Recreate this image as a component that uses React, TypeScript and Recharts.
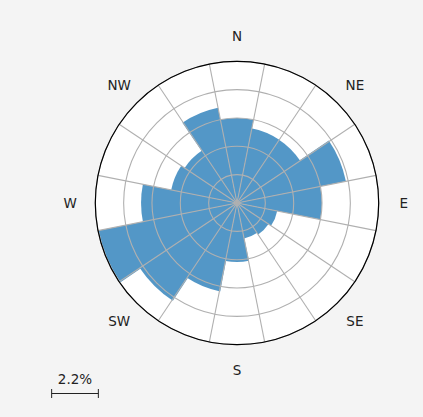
import React from 'react';
import {
  RadialBarChart,
  RadialBar,
  PolarGrid,
  PolarAngleAxis,
  PolarRadiusAxis,
} from 'recharts';

// wind direction sectors, clockwise from north
const directions = ['N', 'NNE', 'NE', 'ENE', 'E', 'ESE', 'SE', 'SSE', 'S', 'SSW', 'SW', 'WSW', 'W', 'WNW', 'NW', 'NNW'];
// frequency per sector (%)
const frequency = [4.0, 3.58, 3.58, 5.23, 4.0, 1.93, 1.79, 1.7, 2.78, 4.24, 5.51, 6.64, 4.52, 3.16, 2.97, 4.57];
const labelledDirections = ['N', 'NE', 'E', 'SE', 'S', 'SW', 'W', 'NW'];
const radialTicks = [1.335, 2.67, 4.005, 5.34, 6.675];
const scaleBarValue = 2.2;
const scaleBarLabel = '2.2%';

const data = directions.map((dir, i) => ({ dir, freq: frequency[i] }));

const WIDTH = 423;
const HEIGHT = 417;
const CX = 237;
const CY = 203;
const RADIUS = 141.7; // radius of the outer (black) circle
const LABEL_GAP = 25;
const MAX = radialTicks[radialTicks.length - 1]; // value at the outer circle
// recharts rounds the radius domain up to a whole number, so use that
// domain and stretch the axis range to keep MAX on the outer circle
const DOMAIN_MAX = Math.ceil(MAX);
const AXIS_RADIUS = (RADIUS * DOMAIN_MAX) / MAX;
const FONT = '"DejaVu Sans", sans-serif';
const GRID = '#b0b0b0';

const sectorAngle = 360 / directions.length;
// recharts puts each bar from the category coordinate onwards (counter-clockwise),
// so start half a sector clockwise of north to centre the bars on the compass points
const startAngle = 90 - sectorAngle / 2;
const boundaryAngles = directions.map((_, i) => startAngle - i * sectorAngle);

const DirTick = (props: any) => {
  const { x, y, payload } = props;
  if (!labelledDirections.includes(payload.value)) return <g />;
  // tick sits on the sector edge; move it to the sector centre
  const a = Math.atan2(CY - y, x - CX) + (sectorAngle / 2) * (Math.PI / 180);
  const r = RADIUS + LABEL_GAP;
  return (
    <text
      x={CX + r * Math.cos(a)}
      y={CY - r * Math.sin(a)}
      textAnchor='middle'
      dominantBaseline='central'
      fontSize={13.5}
      fill='#222'
      fontFamily={FONT}
    >
      {payload.value}
    </text>
  );
};

const ScaleBar = () => {
  const len = (scaleBarValue / MAX) * RADIUS;
  const x0 = 75 - len / 2;
  const x1 = 75 + len / 2;
  return (
    <svg width={150} height={60} style={{ position: 'absolute', left: 0, top: HEIGHT - 60 }}>
      <text x={75} y={27} textAnchor='middle' fontSize={13.5} fill='#222' fontFamily={FONT}>
        {scaleBarLabel}
      </text>
      <line x1={x0} x2={x1} y1={36.5} y2={36.5} stroke='#222' strokeWidth={1} />
      <line x1={x0} x2={x0} y1={32} y2={41} stroke='#222' strokeWidth={1} />
      <line x1={x1} x2={x1} y1={32} y2={41} stroke='#222' strokeWidth={1} />
    </svg>
  );
};

const chartCommon = {
  width: WIDTH,
  height: HEIGHT,
  data,
  cx: CX,
  cy: CY,
  innerRadius: 0,
  startAngle,
  endAngle: startAngle - 360,
  layout: 'centric' as const,
  margin: { top: 0, right: 0, bottom: 0, left: 0 },
};

const App = () => {
  return (
    <div style={{ position: 'absolute', left: 0, top: 0, width: WIDTH, height: HEIGHT, background: '#f4f4f4' }}>
      <RadialBarChart {...chartCommon} outerRadius={AXIS_RADIUS} barCategoryGap={0} barGap={0}>
        <PolarGrid gridType='circle' polarAngles={[]} polarRadius={[RADIUS]} fill='#fff' stroke='none' />
        <PolarAngleAxis
          type='category'
          dataKey='dir'
          axisLine={false}
          tickLine={false}
          tickSize={LABEL_GAP}
          tick={DirTick}
        />
        <PolarRadiusAxis
          type='number'
          domain={[0, DOMAIN_MAX]}
          allowDataOverflow
          ticks={radialTicks}
          tick={false}
          axisLine={false}
        />
        <RadialBar dataKey='freq' fill='#5397c7' isAnimationActive={false} />
        {/* rings at the radius ticks, over the bars */}
        <PolarGrid gridType='circle' polarAngles={[]} stroke={GRID} strokeWidth={1.1} zIndex={1000} />
      </RadialBarChart>
      {/* sector edges and the outer circle, clipped to the outer circle */}
      <div style={{ position: 'absolute', left: 0, top: 0, pointerEvents: 'none' }}>
        <RadialBarChart {...chartCommon} outerRadius={RADIUS}>
          <PolarGrid gridType='circle' polarAngles={boundaryAngles} polarRadius={[]} stroke={GRID} strokeWidth={1.1} />
          <PolarGrid gridType='circle' polarAngles={[]} polarRadius={[RADIUS]} stroke='#000' strokeWidth={1.2} />
        </RadialBarChart>
      </div>
      <ScaleBar />
    </div>
  );
};

export default App;
